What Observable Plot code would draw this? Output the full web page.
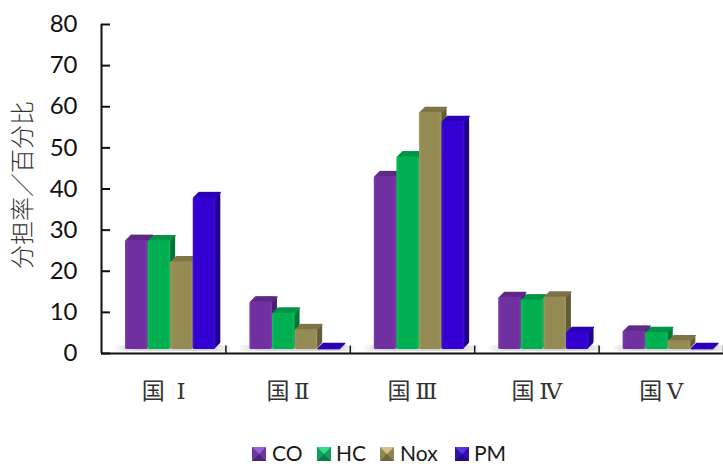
<!DOCTYPE html>
<html>
<head>
<meta charset="utf-8">
<script src="https://cdn.jsdelivr.net/npm/d3@7"></script>
<script src="https://cdn.jsdelivr.net/npm/@observablehq/plot@0.6"></script>
<style>
html,body{margin:0;padding:0;background:#fff;overflow:hidden}
#chart svg{display:block}
#legend{position:absolute;left:0;top:441px;width:723px;height:23px;font:21px Lato,"Open Sans",sans-serif;color:#1a1a1a}
#legend .s{position:absolute;top:6px;width:0;height:0;border-style:solid;border-width:7px}
#legend .t{position:absolute;top:1px;line-height:22px}
</style>
</head>
<body>
<div id="chart"></div>
<div id="legend"></div>
<script>
const categories = ["国 \u2009Ⅰ", "国\u2009Ⅱ", "国\u2009Ⅲ", "国\u2009Ⅳ", "国\u2009Ⅴ"];
const seriesNames = ["CO", "HC", "Nox", "PM"];
const CO  = [27.5, 12.5, 43.0, 13.6, 5.4];
const HC  = [27.4, 9.8, 47.8, 13.0, 5.1];
const Nox = [22.3, 5.8, 58.6, 13.7, 3.1];
const PM  = [37.9, 1.2, 56.4, 5.1, 1.2];
const yTicks = [0, 10, 20, 30, 40, 50, 60, 70, 80];

const front = ["#7030A0", "#00B050", "#948A54", "#3300D2"];
const side  = ["#4A2070", "#00753A", "#635C38", "#22008C"];
const top_  = ["#5F2A88", "#009446", "#7E7548", "#2C00B4"];
const lightEdge = ["#7D3DAD", "#12BC5E", "#A1975F", "#3F0CE0"];
const swatch = [
  ["#9A5FD0", "#6E35A0", "#4F2478"],
  ["#35D98A", "#0FA05C", "#0A7A44"],
  ["#D0C68C", "#8F8654", "#6E673E"],
  ["#5A35E0", "#3311B0", "#240A88"]
];

const inset = 0.193, barW = 0.1815, depth = 5, floorV = 0.95;
const rows = [];
[CO, HC, Nox, PM].forEach((vals, s) => vals.forEach((v, c) => rows.push({
  s, v, x1: c + inset + s * barW, x2: c + inset + (s + 1) * barW
})));
const groups = categories.map((_, c) => ({x1: c + inset - 0.09, x2: c + inset + 4 * barW + 0.13}));

const defs = () => {
  const ns = "http://www.w3.org/2000/svg";
  const d = document.createElementNS(ns, "defs");
  const grad = (id, stops) => {
    const g = document.createElementNS(ns, "linearGradient");
    g.setAttribute("id", id);
    stops.forEach(([o, c, a]) => {
      const st = document.createElementNS(ns, "stop");
      st.setAttribute("offset", o);
      st.setAttribute("stop-color", c);
      if (a != null) st.setAttribute("stop-opacity", a);
      g.appendChild(st);
    });
    d.appendChild(g);
  };
  front.forEach((c, i) => grad("f" + i, [[0, lightEdge[i]], [0.12, c], [0.88, c], [1, lightEdge[i]]]));
  grad("shadow", [[0, "#999", 0], [0.2, "#bbb", 0.6], [0.8, "#bbb", 0.6], [1, "#999", 0]]);
  return d;
};

const bars = [];
seriesNames.forEach((_, s) => {
  const data = rows.filter(r => r.s === s);
  for (let k = depth; k >= 1; k--) {
    bars.push(Plot.rectY(data, {x1: "x1", x2: "x2", y1: floorV, y2: "v", fill: side[s], dx: k, dy: -k, rx: 2.5}));
  }
  for (let k = depth; k >= 0; k--) {
    bars.push(Plot.ruleY(data, {x1: "x1", x2: "x2", y: "v", stroke: top_[s], strokeWidth: 1.6, dx: k + 0.5, dy: -k}));
  }
  bars.push(Plot.rectY(data, {x1: "x1", x2: "x2", y1: floorV, y2: "v", fill: `url(#f${s})`, rx: 1.5}));
});

const chart = Plot.plot({
  width: 723, height: 441,
  marginLeft: 101, marginRight: 0, marginTop: 24, marginBottom: 88,
  style: {background: "#fff", overflow: "visible"},
  x: {type: "linear", domain: [0, 5], label: null},
  y: {domain: [0, 80], label: null},
  marks: [
    defs,
    Plot.rectY(groups, {x1: "x1", x2: "x2", y1: 0.5, y2: 1.9, fill: "url(#shadow)"}),
    ...bars,
    Plot.ruleX([0], {y1: 0, y2: 80, stroke: "#111", strokeWidth: 2}),
    Plot.ruleY([0], {stroke: "#111", strokeWidth: 2}),
    Plot.ruleX([1, 2, 3, 4, 5], {y1: 0, y2: 1.8, stroke: "#111", strokeWidth: 1.5}),
    Plot.axisY({ticks: yTicks, tickSize: -9, tickPadding: 33, strokeWidth: 2, stroke: "#111",
      fontSize: 24, fontFamily: "Lato, 'Open Sans', sans-serif", fill: "#111", label: null}),
    Plot.axisX({ticks: categories.map((_, i) => i + 0.5), tickFormat: d => categories[Math.floor(d)],
      tickSize: 0, tickPadding: 29, fontSize: 23, label: null,
      fontFamily: "'DejaVu Serif', 'Noto Sans CJK SC', serif", fill: "#333"}),
    Plot.text(["分担率／百分比"], {
      frameAnchor: "left", textAnchor: "middle", rotate: -90, dx: -78, dy: -4, fontSize: 24, fill: "#333",
      fontFamily: "'Noto Sans CJK SC', sans-serif", fontWeight: 300
    })
  ]
});
document.getElementById("chart").appendChild(chart);

const legend = document.getElementById("legend");
const swX = [252, 317, 380, 455], txtX = [272, 336, 400, 474];
seriesNames.forEach((n, i) => {
  const s = document.createElement("div");
  s.className = "s";
  s.style.left = swX[i] + "px";
  s.style.borderColor = `${swatch[i][0]} ${swatch[i][1]} ${swatch[i][2]} ${swatch[i][1]}`;
  legend.appendChild(s);
  const t = document.createElement("div");
  t.className = "t";
  t.style.left = txtX[i] + "px";
  t.textContent = n;
  legend.appendChild(t);
});
</script>
</body>
</html>
